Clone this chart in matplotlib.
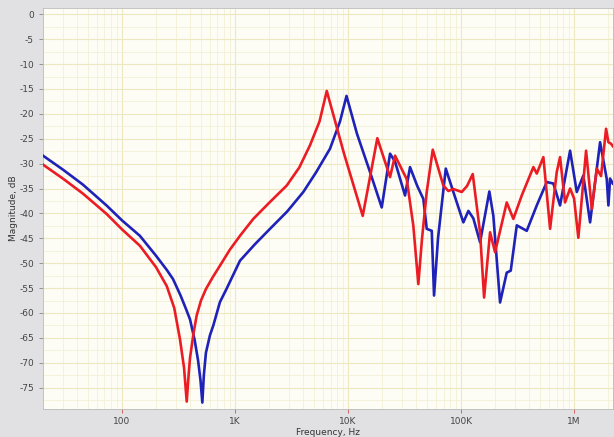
import matplotlib
matplotlib.use("Agg")
import matplotlib.pyplot as plt
import matplotlib.ticker as mticker
import numpy as np

plt.rcParams["axes.unicode_minus"] = False

# Frequency response
blue_freq = [20, 30, 45, 73, 100, 144, 200, 250, 283, 330, 370, 400, 440, 471, 495, 514,
             530, 553, 600, 643, 736, 840, 1107, 1500, 2040, 2900, 4020, 5200, 6930,
             8500, 9700, 12000, 15660, 19870, 23540, 26060, 31940, 35370, 41000, 46390,
             49700, 55060, 57680, 62550, 73250, 85510, 104800, 116100, 128500, 147300,
             178000, 193100, 221400, 253700, 275300, 311200, 381300, 467700, 573200,
             656000, 751600, 922000, 1057000, 1208000, 1386000, 1699000, 1946000,
             2013000, 2083000, 2200000]
blue_db = [-28.4, -31.2, -34.2, -38.4, -41.4, -44.5, -48.5, -51.4, -53.2, -56.5, -59.3,
           -61.3, -65.5, -69.5, -73.5, -78.0,
           -72.5, -68.0, -64.5, -62.5, -57.8, -55.2, -49.5, -46.2, -43.1, -39.6, -35.7,
           -31.8, -27.0, -21.5, -16.4, -24.0, -31.7, -38.8, -28.0, -29.6, -36.4, -30.7,
           -34.5, -37.1, -43.1, -43.5, -56.5, -45.0, -31.0, -35.7, -41.8, -39.5, -41.0,
           -45.8, -35.6, -40.5, -57.9, -51.9, -51.5, -42.4, -43.5, -38.4, -33.7,
           -34.0, -38.4, -27.4, -35.7, -32.4, -41.8, -25.7, -33.1,
           -38.4, -33.0, -34.0]

red_freq = [20, 30, 45, 73, 100, 144, 200, 249, 290, 326, 354, 374, 390, 400, 430, 458,
            500, 553, 640, 736, 900, 1107, 1452, 2000, 2869, 3700, 4612, 5600, 6485,
            9220, 13490, 18170, 23540, 26060, 33050, 37840, 41880, 45180, 49700, 56200,
            69700, 77200, 85510, 101400, 113000, 126900, 147300, 159900, 180600, 200000,
            253700, 290300, 344400, 436500, 467700, 535000, 613500, 702600, 751600,
            832000, 922000, 1000000, 1091000, 1277000, 1435000, 1588000, 1733000,
            1919000, 2013000, 2124000, 2200000]
red_db = [-30.2, -33.0, -36.0, -40.1, -43.2, -46.5, -50.8, -54.6, -59.0, -65.3, -71.0,
          -77.8, -72.0, -69.0, -64.0, -60.5,
          -57.5, -55.2, -52.7, -50.5, -47.3, -44.5, -41.1, -37.9, -34.4, -30.8, -26.3,
          -21.5, -15.4, -28.0, -40.5, -24.9, -32.7, -28.4, -33.1, -42.5, -54.2, -45.0,
          -35.7, -27.2, -34.4, -35.5, -35.1, -35.7, -34.5, -32.1, -43.8, -56.9, -43.8,
          -47.8, -37.8, -41.1, -36.4, -30.7, -32.0, -28.7, -43.1, -31.7, -28.7,
          -37.8, -35.0, -37.0, -44.9, -27.4, -39.1, -31.0, -32.5,
          -23.0, -25.7, -26.0, -26.5]

y_ticks = list(range(0, -80, -5))
x_ticks = [100, 1000, 10000, 100000, 1000000]
x_tick_labels = ["100", "1K", "10K", "100K", "1M"]

fig = plt.figure(figsize=(6.14, 4.37), dpi=100, facecolor="#e1e1e3")
ax = fig.add_axes([0.070, 0.064, 0.928, 0.917])
ax.set_facecolor("#fdfdf6")

ax.plot(blue_freq, blue_db, color="#1f22b8", linewidth=1.9, zorder=3)
ax.plot(red_freq, red_db, color="#ec1c24", linewidth=1.9, zorder=4)

ax.set_xscale("log")
ax.set_xlim(20, 2.2e6)
ax.set_ylim(-79.3, 1.2)

ax.set_xticks(x_ticks)
ax.set_xticklabels(x_tick_labels)
ax.xaxis.set_minor_locator(mticker.LogLocator(base=10, subs=np.arange(2, 10)))
ax.xaxis.set_minor_formatter(mticker.NullFormatter())
ax.set_yticks(y_ticks)
ax.yaxis.set_minor_locator(mticker.MultipleLocator(2.5))

ax.grid(which="major", color="#eee8c0", linewidth=0.8)
ax.grid(which="minor", color="#f4f0d8", linewidth=0.6)
ax.set_axisbelow(True)

ax.tick_params(axis="both", which="major", labelsize=6.5, labelcolor="#444444",
               length=3, width=0.6, color="#888888")
ax.tick_params(axis="x", which="major", color="#d05050", pad=3)
ax.tick_params(axis="both", which="minor", length=0)

for side in ["top", "right", "bottom", "left"]:
    ax.spines[side].set_color("#bbbbbb")
    ax.spines[side].set_linewidth(0.6)

ax.set_xlabel("Frequency, Hz", fontsize=6.5, color="#333333", labelpad=1)
ax.set_ylabel("Magnitude, dB", fontsize=6.5, color="#333333", labelpad=1)

fig.savefig("out.png", dpi=100, facecolor=fig.get_facecolor())
